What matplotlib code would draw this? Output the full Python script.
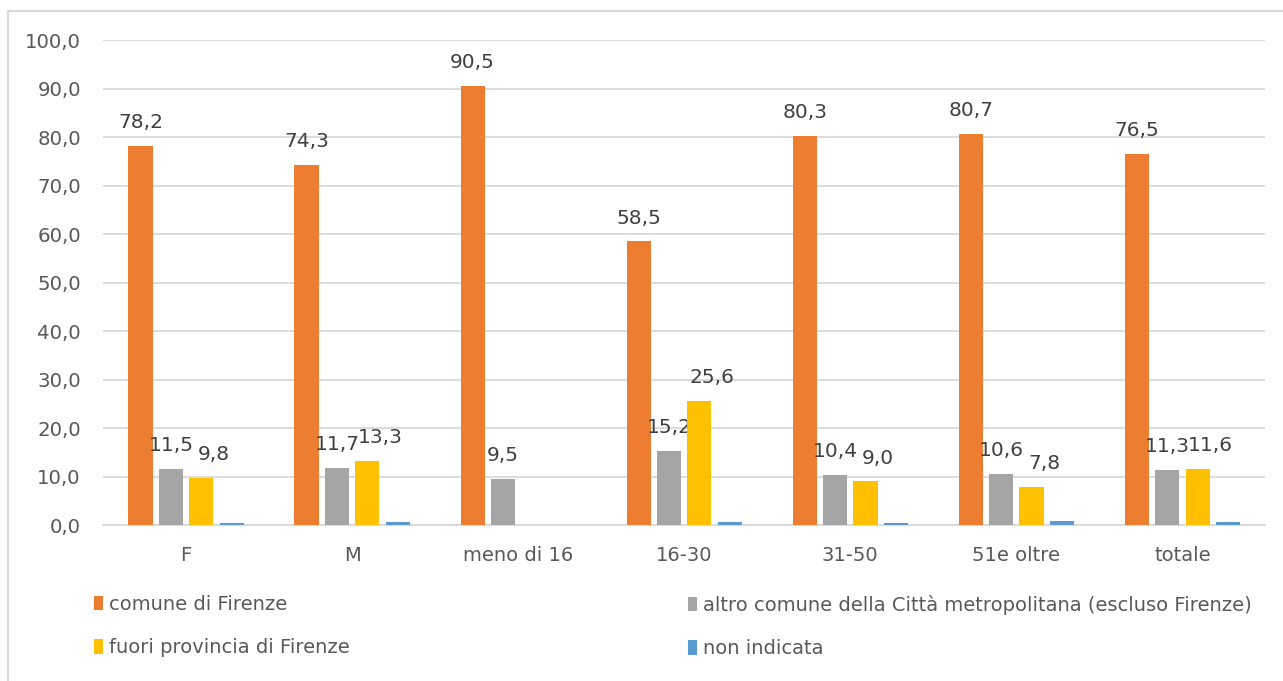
import numpy as np
import matplotlib
matplotlib.use("Agg")
import matplotlib.pyplot as plt
from matplotlib.patches import Rectangle

# residenza per genere ed età (%)
categories = ["F", "M", "meno di 16", "16-30", "31-50", "51e oltre", "totale"]
series_names = ["comune di Firenze",
                "altro comune della Città metropolitana (escluso Firenze)",
                "fuori provincia di Firenze",
                "non indicata"]
comune_firenze = [78.2, 74.3, 90.5, 58.5, 80.3, 80.7, 76.5]
altro_comune = [11.5, 11.7, 9.5, 15.2, 10.4, 10.6, 11.3]
fuori_provincia = [9.8, 13.3, 0.0, 25.6, 9.0, 7.8, 11.6]
non_indicata = [0.5, 0.7, 0.0, 0.7, 0.5, 0.9, 0.7]
# which series carry value labels
labelled = [True, True, True, False]

colors = ["#ED7D31", "#A5A5A5", "#FFC000", "#5B9BD5"]
series = [comune_firenze, altro_comune, fuori_provincia, non_indicata]
# horizontal nudge of the value labels (points), per series
label_dx = [0, 0, 9, 0]

fig = plt.figure(figsize=(12.83, 6.81), dpi=100)
ax = fig.add_axes([0.0803, 0.229, 0.906, 0.712])

x = np.arange(len(categories))
width = 0.145
pitch = 0.183
offsets = (np.arange(4) - 1.5) * pitch

handles = []
for vals, col, off, lab, dx, name in zip(series, colors, offsets, labelled,
                                          label_dx, series_names):
    vals = np.array(vals)
    bars = ax.bar(x + off, vals, width, color=col, label=name, zorder=3)
    handles.append(bars)
    if lab:
        for xi, v in zip(x + off, vals):
            if v <= 0:
                continue
            ax.annotate(f"{v:.1f}".replace(".", ","), (xi, v),
                        xytext=(dx, 10), textcoords="offset points",
                        ha="center", va="bottom", fontsize=14.5,
                        color="#404040")

ax.set_xlim(-0.5, len(categories) - 0.5)
ax.set_ylim(0, 100)
ax.set_yticks(np.arange(0, 101, 10))
ax.set_yticklabels([f"{t:.1f}".replace(".", ",") for t in np.arange(0, 101, 10)])
ax.set_xticks(x)
ax.set_xticklabels(categories)
ax.tick_params(axis="both", length=0, colors="#595959", labelsize=14)
ax.tick_params(axis="y", pad=16, labelsize=14.2)
ax.tick_params(axis="x", pad=15)
ax.grid(axis="y", color="#D9D9D9", lw=1.3, zorder=0)
for s in ["top", "right", "left"]:
    ax.spines[s].set_visible(False)
ax.spines["bottom"].set_color("#D9D9D9")
ax.spines["bottom"].set_linewidth(1.3)

# legend in two separate columns
leg_kw = dict(frameon=False, handlelength=0.5, handleheight=0.8,
              handletextpad=0.3, labelspacing=1.25, borderaxespad=0,
              labelcolor="#595959", prop={"size": 14})
fig.legend([handles[0], handles[2]], [series_names[0], series_names[2]],
           loc="upper left", bbox_to_anchor=(0.067, 0.138), **leg_kw)
fig.legend([handles[1], handles[3]], [series_names[1], series_names[3]],
           loc="upper left", bbox_to_anchor=(0.530, 0.138), **leg_kw)

# chart frame
fig.patches.append(Rectangle((8 / 1283, -0.1), 1.2, 1 - 11 / 681 + 0.1,
                             transform=fig.transFigure, fill=False,
                             edgecolor="#D9D9D9", lw=1.6))

fig.savefig("out.png", dpi=100)
